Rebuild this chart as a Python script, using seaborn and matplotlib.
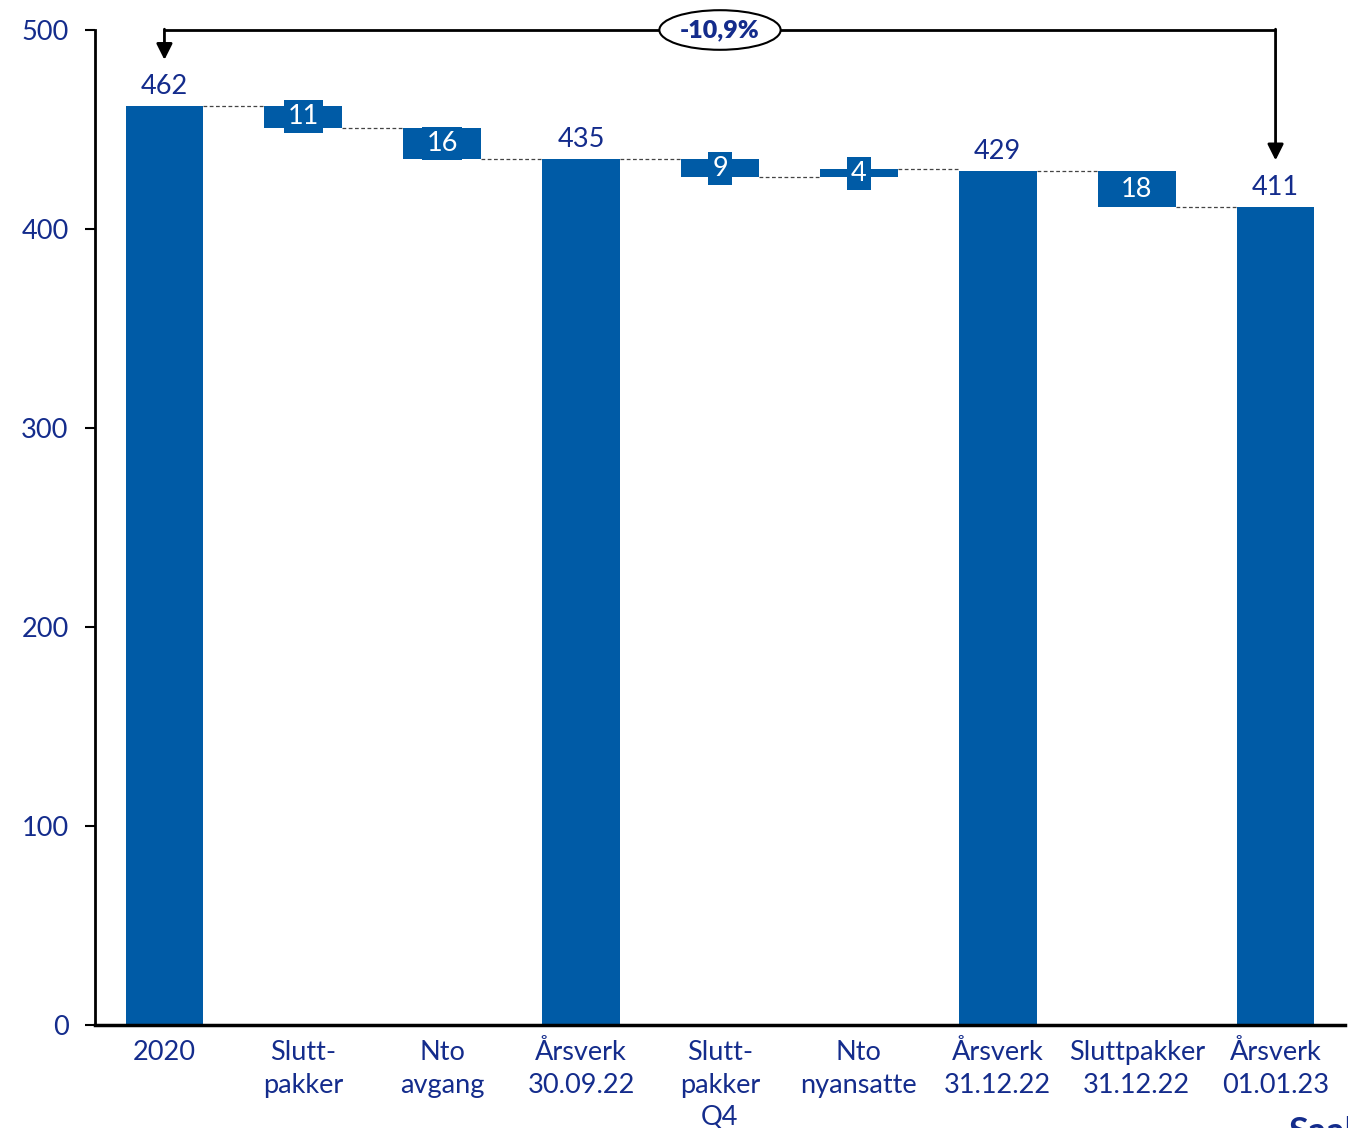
import matplotlib
matplotlib.use("Agg")
import matplotlib.pyplot as plt
import seaborn as sns
import pandas as pd

# Waterfall of man-years (årsverk)
categories = ["2020", "Slutt-\npakker", "Nto\navgang", "Årsverk\n30.09.22",
              "Slutt-\npakker\nQ4", "Nto\nnyansatte", "Årsverk\n31.12.22",
              "Sluttpakker\n31.12.22", "Årsverk\n01.01.23"]
values = [462, -11, -16, 435, -9, 4, 429, -18, 411]
is_total = [True, False, False, True, False, False, True, False, True]
change_label = "-10,9%"

BLUE = "#005BA6"
NAVY = "#142C8C"

sns.set_theme(style="white")
plt.rcParams["font.family"] = ["Lato", "DejaVu Sans"]

# bar extents
bottoms, tops = [], []
level = 0
for v, tot in zip(values, is_total):
    if tot:
        bottoms.append(0)
        tops.append(v)
        level = v
    else:
        start = level
        level = start + v
        bottoms.append(min(start, level))
        tops.append(max(start, level))
heights = [t - b for t, b in zip(tops, bottoms)]
ends = [v if tot else (b if v < 0 else t) for v, tot, b, t in zip(values, is_total, bottoms, tops)]

df = pd.DataFrame({"cat": categories, "height": heights})

fig = plt.figure(figsize=(13.48, 11.28), dpi=100)
ax = fig.add_axes([95 / 1348, 1 - 1025 / 1128, 1250 / 1348, 995 / 1128])

BW = 0.56
FS = 19.5
sns.barplot(data=df, x="cat", y="height", color=BLUE, saturation=1,
            width=BW, linewidth=0, ax=ax)
for p, b in zip(ax.patches, bottoms):
    p.set_y(b)

# connectors
for i in range(len(values) - 1):
    ax.plot([i + BW / 2, i + 1 - BW / 2], [ends[i], ends[i]], color="#444444",
            lw=0.9, ls=(0, (3, 2)), zorder=1)

# value labels
for i, (v, tot) in enumerate(zip(values, is_total)):
    if tot:
        ax.annotate(f"{v}", (i, tops[i]), xytext=(0, 5), textcoords="offset points",
                    ha="center", va="bottom", color=NAVY, fontsize=FS)
    else:
        ax.text(i, (tops[i] + bottoms[i]) / 2, f"{abs(v)}", ha="center", va="center",
                color="white", fontsize=FS,
                bbox=dict(boxstyle="square,pad=0.15", fc=BLUE, ec="none"))

# overall change bracket
first, last = 0, len(values) - 1
ax.plot([first, last], [500, 500], color="black", lw=2, clip_on=False,
        solid_capstyle="butt", zorder=3)
ax.annotate("", xy=(first, 485), xytext=(first, 500.4),
            arrowprops=dict(arrowstyle="-|>", mutation_scale=24, lw=2, color="black",
                            shrinkA=0, shrinkB=0), annotation_clip=False)
ax.annotate("", xy=(last, 434.5), xytext=(last, 500.4),
            arrowprops=dict(arrowstyle="-|>", mutation_scale=24, lw=2, color="black",
                            shrinkA=0, shrinkB=0), annotation_clip=False)
ax.text(4, 500, change_label, ha="center", va="center", color=NAVY, fontsize=18,
        fontweight="heavy", zorder=5, clip_on=False,
        bbox=dict(boxstyle="ellipse,pad=0.12", fc="white", ec="black", lw=1.5))

ax.set_xlim(-0.5, len(values) - 0.5)
ax.set_ylim(0, 500)
ax.set_yticks(range(0, 501, 100))
ax.set_xlabel("")
ax.set_ylabel("")
ax.set_xticks(range(len(categories)))
ax.set_xticklabels(categories, linespacing=1.38)
ax.tick_params(axis="y", length=7, width=1.5, color="black", labelsize=FS,
               labelcolor=NAVY, pad=12, left=True)
ax.tick_params(axis="x", length=0, labelsize=FS, labelcolor=NAVY, pad=11)

for s in ["top", "right"]:
    ax.spines[s].set_visible(False)
ax.spines["left"].set_linewidth(2)
ax.spines["left"].set_color("black")
ax.spines["bottom"].set_linewidth(2.5)
ax.spines["bottom"].set_color("black")

fig.text(1288 / 1348, 1 - 1116 / 1128, "Saab", ha="left", va="top",
         color=NAVY, fontsize=26, fontweight="bold")

fig.savefig("out.png", dpi=100)
